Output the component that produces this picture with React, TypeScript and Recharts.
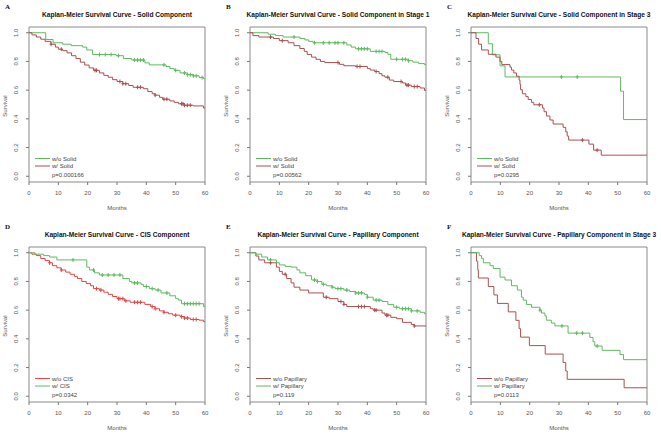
import { ComposedChart, Line, Scatter, XAxis, YAxis, ReferenceArea } from "recharts";

type Pt = [number, number];

const xTicks = [0, 10, 20, 30, 40, 50, 60];
const yTicks = [0, 0.2, 0.4, 0.6, 0.8, 1.0];

const letters = ["A", "B", "C", "D", "E", "F"];
const titles = [
  "Kaplan-Meier Survival Curve - Solid Component",
  "Kaplan-Meier Survival Curve - Solid Component in Stage 1",
  "Kaplan-Meier Survival Curve - Solid Component in Stage 3",
  "Kaplan-Meier Survival Curve - CIS Component",
  "Kaplan-Meier Survival Curve - Papillary Component",
  "Kaplan-Meier Survival Curve - Papillary Component in Stage 3",
];
const pValues = ["p=0.000166", "p=0.00562", "p=0.0295", "p=0.0342", "p=0.119", "p=0.0113"];

// A - solid component
const aWo: Pt[] = [[0, 1], [5.7, 0.953], [8.2, 0.93], [11.5, 0.92], [14.4, 0.91], [18.3, 0.9], [19.7, 0.88], [21.7, 0.848], [29.7, 0.84], [32.2, 0.82], [35, 0.81], [39.5, 0.79], [41, 0.776], [46.7, 0.765], [48, 0.75], [49.5, 0.738], [51.5, 0.72], [54, 0.708], [56, 0.7], [58, 0.688], [59.5, 0.68], [60, 0.68]];
const aWoCens = [24, 26, 28, 30.5, 36, 37, 38, 39, 46, 50, 53, 54, 55, 56, 57, 59];
const aW: Pt[] = [[0, 1], [1, 0.985], [2.5, 0.97], [4, 0.955], [5.5, 0.94], [7.5, 0.92], [9, 0.9], [10, 0.885], [11.5, 0.875], [13, 0.86], [14.5, 0.84], [16, 0.82], [17.5, 0.795], [19, 0.775], [20.5, 0.755], [22, 0.738], [24, 0.72], [25.5, 0.703], [27, 0.69], [28.5, 0.673], [30, 0.66], [32, 0.645], [34, 0.632], [35.5, 0.62], [39, 0.61], [40.5, 0.59], [42, 0.575], [43, 0.565], [44.5, 0.55], [45.5, 0.537], [48, 0.525], [49.5, 0.515], [51, 0.505], [53, 0.495], [56, 0.49], [59.5, 0.475], [60, 0.475]];
const aWCens = [7.5, 11, 22.5, 23, 31, 32, 33, 37, 38, 43, 46, 47, 52, 52.5, 53, 54, 55];

// B - solid component in stage 1
const bWo: Pt[] = [[0, 1], [6.2, 0.99], [8.7, 0.98], [11.3, 0.97], [17, 0.96], [18.7, 0.95], [20, 0.94], [21.5, 0.93], [33, 0.915], [34.5, 0.9], [36, 0.888], [41, 0.87], [46, 0.862], [47, 0.85], [48, 0.815], [54, 0.805], [55.5, 0.795], [57.5, 0.785], [59.5, 0.778], [60, 0.778]];
const bWoCens = [15, 22, 25, 27, 29, 30, 32, 37, 38, 39, 40, 43, 44, 45, 50, 52, 53, 54];
const bW: Pt[] = [[0, 1], [1, 0.98], [3, 0.97], [8, 0.96], [10, 0.945], [13, 0.93], [15, 0.91], [17, 0.89], [18.5, 0.87], [19.5, 0.848], [21, 0.83], [22.5, 0.815], [24, 0.8], [25.5, 0.792], [30.5, 0.78], [32, 0.77], [36, 0.765], [40, 0.75], [41, 0.74], [42.5, 0.73], [44, 0.715], [45, 0.7], [46, 0.69], [47.5, 0.67], [49, 0.66], [52, 0.65], [53, 0.635], [55, 0.625], [58, 0.615], [59.5, 0.598], [60, 0.598]];
const bWCens = [7, 11, 30, 36.5, 37.5, 43, 47, 51.5, 53.5, 54, 56, 57];

// C - solid component in stage 3
const cWo: Pt[] = [[0, 1], [5.9, 0.923], [7.3, 0.846], [9.9, 0.769], [11.6, 0.692], [51, 0.593], [52, 0.395], [60, 0.395]];
const cWoCens = [30.8, 36.2];
const cW: Pt[] = [[0, 1], [1.7, 0.96], [2.6, 0.92], [3.6, 0.88], [5.9, 0.85], [8.5, 0.83], [9.9, 0.8], [10.5, 0.778], [13.3, 0.76], [13.8, 0.74], [14.6, 0.72], [15.5, 0.697], [16.4, 0.67], [16.7, 0.64], [16.9, 0.603], [17.5, 0.575], [18.7, 0.555], [19.5, 0.535], [20.6, 0.515], [21.4, 0.498], [24.4, 0.475], [24.9, 0.45], [25.7, 0.42], [26.9, 0.392], [28, 0.364], [31.4, 0.341], [32.3, 0.31], [32.8, 0.28], [33.3, 0.252], [40.2, 0.224], [41.8, 0.182], [44.4, 0.147], [60, 0.147]];
const cWCens = [23.3, 38, 43];

// D - CIS component
const dWo: Pt[] = [[0, 1], [1, 0.99], [2.5, 0.98], [4, 0.96], [5.5, 0.945], [7, 0.93], [8, 0.91], [9.5, 0.895], [11, 0.88], [12.5, 0.865], [14, 0.85], [15.5, 0.835], [16.5, 0.82], [18, 0.8], [19.5, 0.785], [21, 0.77], [22, 0.75], [24, 0.74], [25.5, 0.725], [27, 0.71], [28.5, 0.695], [30, 0.68], [32.5, 0.665], [34.5, 0.655], [39.5, 0.64], [41.5, 0.625], [43, 0.61], [44.5, 0.595], [46, 0.585], [47.5, 0.575], [49, 0.565], [51.5, 0.555], [53, 0.545], [55, 0.535], [58, 0.53], [59.5, 0.52], [60, 0.52]];
const dWoCens = [7, 11, 23, 24.5, 30.5, 31, 32, 33, 36, 37, 38, 42, 43, 46, 50, 52, 53, 54, 56, 57];
const dW: Pt[] = [[0, 1], [2, 0.99], [5, 0.98], [7, 0.97], [9.5, 0.95], [19.7, 0.9], [20.6, 0.88], [22.3, 0.86], [24, 0.845], [32, 0.82], [34.2, 0.8], [35, 0.79], [38.2, 0.78], [39, 0.765], [41, 0.75], [43, 0.74], [45, 0.72], [48, 0.7], [50, 0.68], [51, 0.67], [52, 0.645], [59.5, 0.625], [60, 0.625]];
const dWCens = [15, 22, 25, 27, 29, 31, 36, 37, 40, 42, 44, 47, 53, 54, 55, 56, 57, 58];

// E - papillary component
const eWo: Pt[] = [[0, 1], [2, 0.977], [3, 0.95], [5, 0.93], [9, 0.9], [10, 0.87], [11, 0.85], [12.5, 0.82], [14, 0.79], [15, 0.76], [17, 0.74], [20, 0.72], [25, 0.69], [27, 0.68], [30, 0.66], [32, 0.64], [33, 0.625], [41, 0.61], [42, 0.6], [45, 0.58], [46, 0.565], [48, 0.55], [50, 0.54], [52, 0.515], [55, 0.5], [56, 0.49], [60, 0.49]];
const eWoCens = [7, 12, 26, 31, 32, 37, 38, 39, 42.5, 43, 46.5, 47, 56];
const eW: Pt[] = [[0, 1], [2, 0.99], [4, 0.97], [6, 0.95], [9, 0.93], [10, 0.915], [12, 0.905], [14, 0.9], [16, 0.88], [17, 0.86], [19, 0.84], [21, 0.81], [23, 0.8], [24.5, 0.78], [26, 0.77], [28, 0.76], [29, 0.75], [32, 0.74], [34, 0.73], [36, 0.72], [39, 0.71], [40, 0.69], [42, 0.67], [45, 0.66], [47, 0.64], [49, 0.62], [51, 0.61], [55, 0.595], [58, 0.585], [59.5, 0.575], [60, 0.575]];
const eWCens = [7, 22, 23, 25, 28, 30, 31, 33, 36, 37, 38, 40, 43, 44, 50, 52, 53, 54, 55, 57];

// F - papillary component in stage 3
const fWo: Pt[] = [[0, 1], [1.9, 0.941], [2.3, 0.882], [2.5, 0.824], [5.9, 0.765], [7.8, 0.706], [9, 0.647], [12.7, 0.588], [15.3, 0.529], [16.4, 0.471], [16.9, 0.412], [19.9, 0.353], [25.3, 0.294], [31.4, 0.235], [32.3, 0.176], [32.8, 0.118], [52.2, 0.059], [60, 0.059]];
const fWoCens: number[] = [];
const fW: Pt[] = [[0, 1], [2.8, 0.98], [3.6, 0.96], [4.2, 0.93], [6.5, 0.91], [7.6, 0.89], [9.9, 0.83], [11.6, 0.81], [13.8, 0.77], [15.8, 0.74], [17.2, 0.69], [17.8, 0.67], [18.9, 0.64], [20.6, 0.62], [23.5, 0.6], [24, 0.58], [25.2, 0.56], [25.7, 0.53], [27.4, 0.51], [28.6, 0.49], [33.1, 0.44], [40.5, 0.41], [41.6, 0.38], [42.2, 0.35], [44.7, 0.32], [50.8, 0.29], [52, 0.255], [60, 0.255]];
const fWCens = [23.5, 31, 36, 38, 43];

const GREEN = "#5fba5f";
const BROWN = "#ad4f4f";
const RED = "#e54545";
const FONT = "'Liberation Sans', Arial, sans-serif";

type Curve = { name: string; pts: Pt[]; cens: number[]; color: string };

const panels: { curves: Curve[] }[] = [
  { curves: [{ name: "w/o Solid", pts: aWo, cens: aWoCens, color: GREEN }, { name: "w/ Solid", pts: aW, cens: aWCens, color: BROWN }] },
  { curves: [{ name: "w/o Solid", pts: bWo, cens: bWoCens, color: GREEN }, { name: "w/ Solid", pts: bW, cens: bWCens, color: BROWN }] },
  { curves: [{ name: "w/o Solid", pts: cWo, cens: cWoCens, color: GREEN }, { name: "w/ Solid", pts: cW, cens: cWCens, color: BROWN }] },
  { curves: [{ name: "w/o CIS", pts: dWo, cens: dWoCens, color: RED }, { name: "w/ CIS", pts: dW, cens: dWCens, color: GREEN }] },
  { curves: [{ name: "w/o Papillary", pts: eWo, cens: eWoCens, color: BROWN }, { name: "w/ Papillary", pts: eW, cens: eWCens, color: GREEN }] },
  { curves: [{ name: "w/o Papillary", pts: fWo, cens: fWoCens, color: BROWN }, { name: "w/ Papillary", pts: fW, cens: fWCens, color: GREEN }] },
];

const lefts = [-1, 220, 441];
const tops = [0, 220];

function survAt(pts: Pt[], t: number) {
  let s = 1;
  for (const [ct, cs] of pts) if (ct <= t) s = cs;
  return s;
}

function XTick(props: any) {
  const { x, y, payload } = props;
  return (
    <text x={x} y={y + 8} textAnchor="middle" fontSize={6} fill="#555" fontFamily={FONT}>
      {payload.value}
    </text>
  );
}

function YTick(props: any) {
  const { x, y, payload } = props;
  const bx = x - 6;
  return (
    <text x={bx} y={y} textAnchor="middle" fontSize={6} fill="#555" fontFamily={FONT} transform={`rotate(-90, ${bx}, ${y})`}>
      {Number(payload.value).toFixed(1)}
    </text>
  );
}

function PlusMark(props: any) {
  const { cx, cy, fill } = props;
  return (
    <g stroke={fill} strokeWidth={1}>
      <line x1={cx} y1={cy - 2} x2={cx} y2={cy + 2} />
      <line x1={cx - 1.5} y1={cy} x2={cx + 1.5} y2={cy} />
    </g>
  );
}

function Panel({ idx }: { idx: number }) {
  const left = lefts[idx % 3];
  const top = tops[Math.floor(idx / 3)];
  const curves = panels[idx].curves;
  return (
    <div style={{ position: "absolute", left, top, width: 220, height: 218 }}>
      <ComposedChart width={220} height={218} margin={{ top: 27, right: 14, bottom: 0, left: 0 }}>
        <XAxis type="number" dataKey="t" domain={[0, 60]} ticks={xTicks} height={36} tickSize={3} axisLine={false} tickLine={{ stroke: "#777" }} tick={<XTick />} allowDataOverflow />
        <YAxis type="number" dataKey="s" domain={[-0.04, 1.04]} ticks={yTicks} width={30} tickSize={3} axisLine={false} tickLine={{ stroke: "#777" }} tick={<YTick />} allowDataOverflow />
        <ReferenceArea x1={0} x2={60} y1={-0.04} y2={1.04} fill="none" stroke="#8a8a8a" strokeWidth={1} />
        {curves.map((c, i) => (
          <Line key={"l" + i} data={c.pts.map(([t, s]) => ({ t, s }))} dataKey="s" type="stepAfter" stroke={c.color} strokeWidth={1} dot={false} activeDot={false} isAnimationActive={false} />
        ))}
        {curves.map((c, i) => (
          <Scatter key={"c" + i} data={c.cens.map((t) => ({ t, s: survAt(c.pts, t) }))} dataKey="s" fill={c.color} shape={<PlusMark />} isAnimationActive={false} />
        ))}
      </ComposedChart>
      <svg width={220} height={218} style={{ position: "absolute", left: 0, top: 0, pointerEvents: "none" }} fontFamily={FONT}>
        <text x={6} y={9} fontSize={7} fontWeight="bold" fontFamily="'Liberation Serif', 'Times New Roman', serif" fill="#111">{letters[idx]}</text>
        <text x={118} y={16.5} fontSize={6.6} fontWeight="bold" textAnchor="middle" fill="#111">{titles[idx]}</text>
        <text x={8} y={106} fontSize={6} textAnchor="middle" fill="#555" transform="rotate(-90, 8, 106)">Survival</text>
        <text x={118} y={210} fontSize={6} textAnchor="middle" fill="#555">Months</text>
        {curves.map((c, i) => (
          <g key={i}>
            <line x1={36} x2={51} y1={158.5 + i * 7.5} y2={158.5 + i * 7.5} stroke={c.color} strokeWidth={1} />
            <text x={53} y={160.5 + i * 7.5} fontSize={6} fill="#444">{c.name}</text>
          </g>
        ))}
        <text x={53} y={176.5} fontSize={6} fill="#444">{pValues[idx]}</text>
      </svg>
    </div>
  );
}

export default function App() {
  return (
    <div style={{ position: "absolute", left: 0, top: 0, width: 661, height: 436, background: "#fff", overflow: "hidden" }}>
      {[0, 1, 2, 3, 4, 5].map((i) => (
        <Panel key={i} idx={i} />
      ))}
    </div>
  );
}
